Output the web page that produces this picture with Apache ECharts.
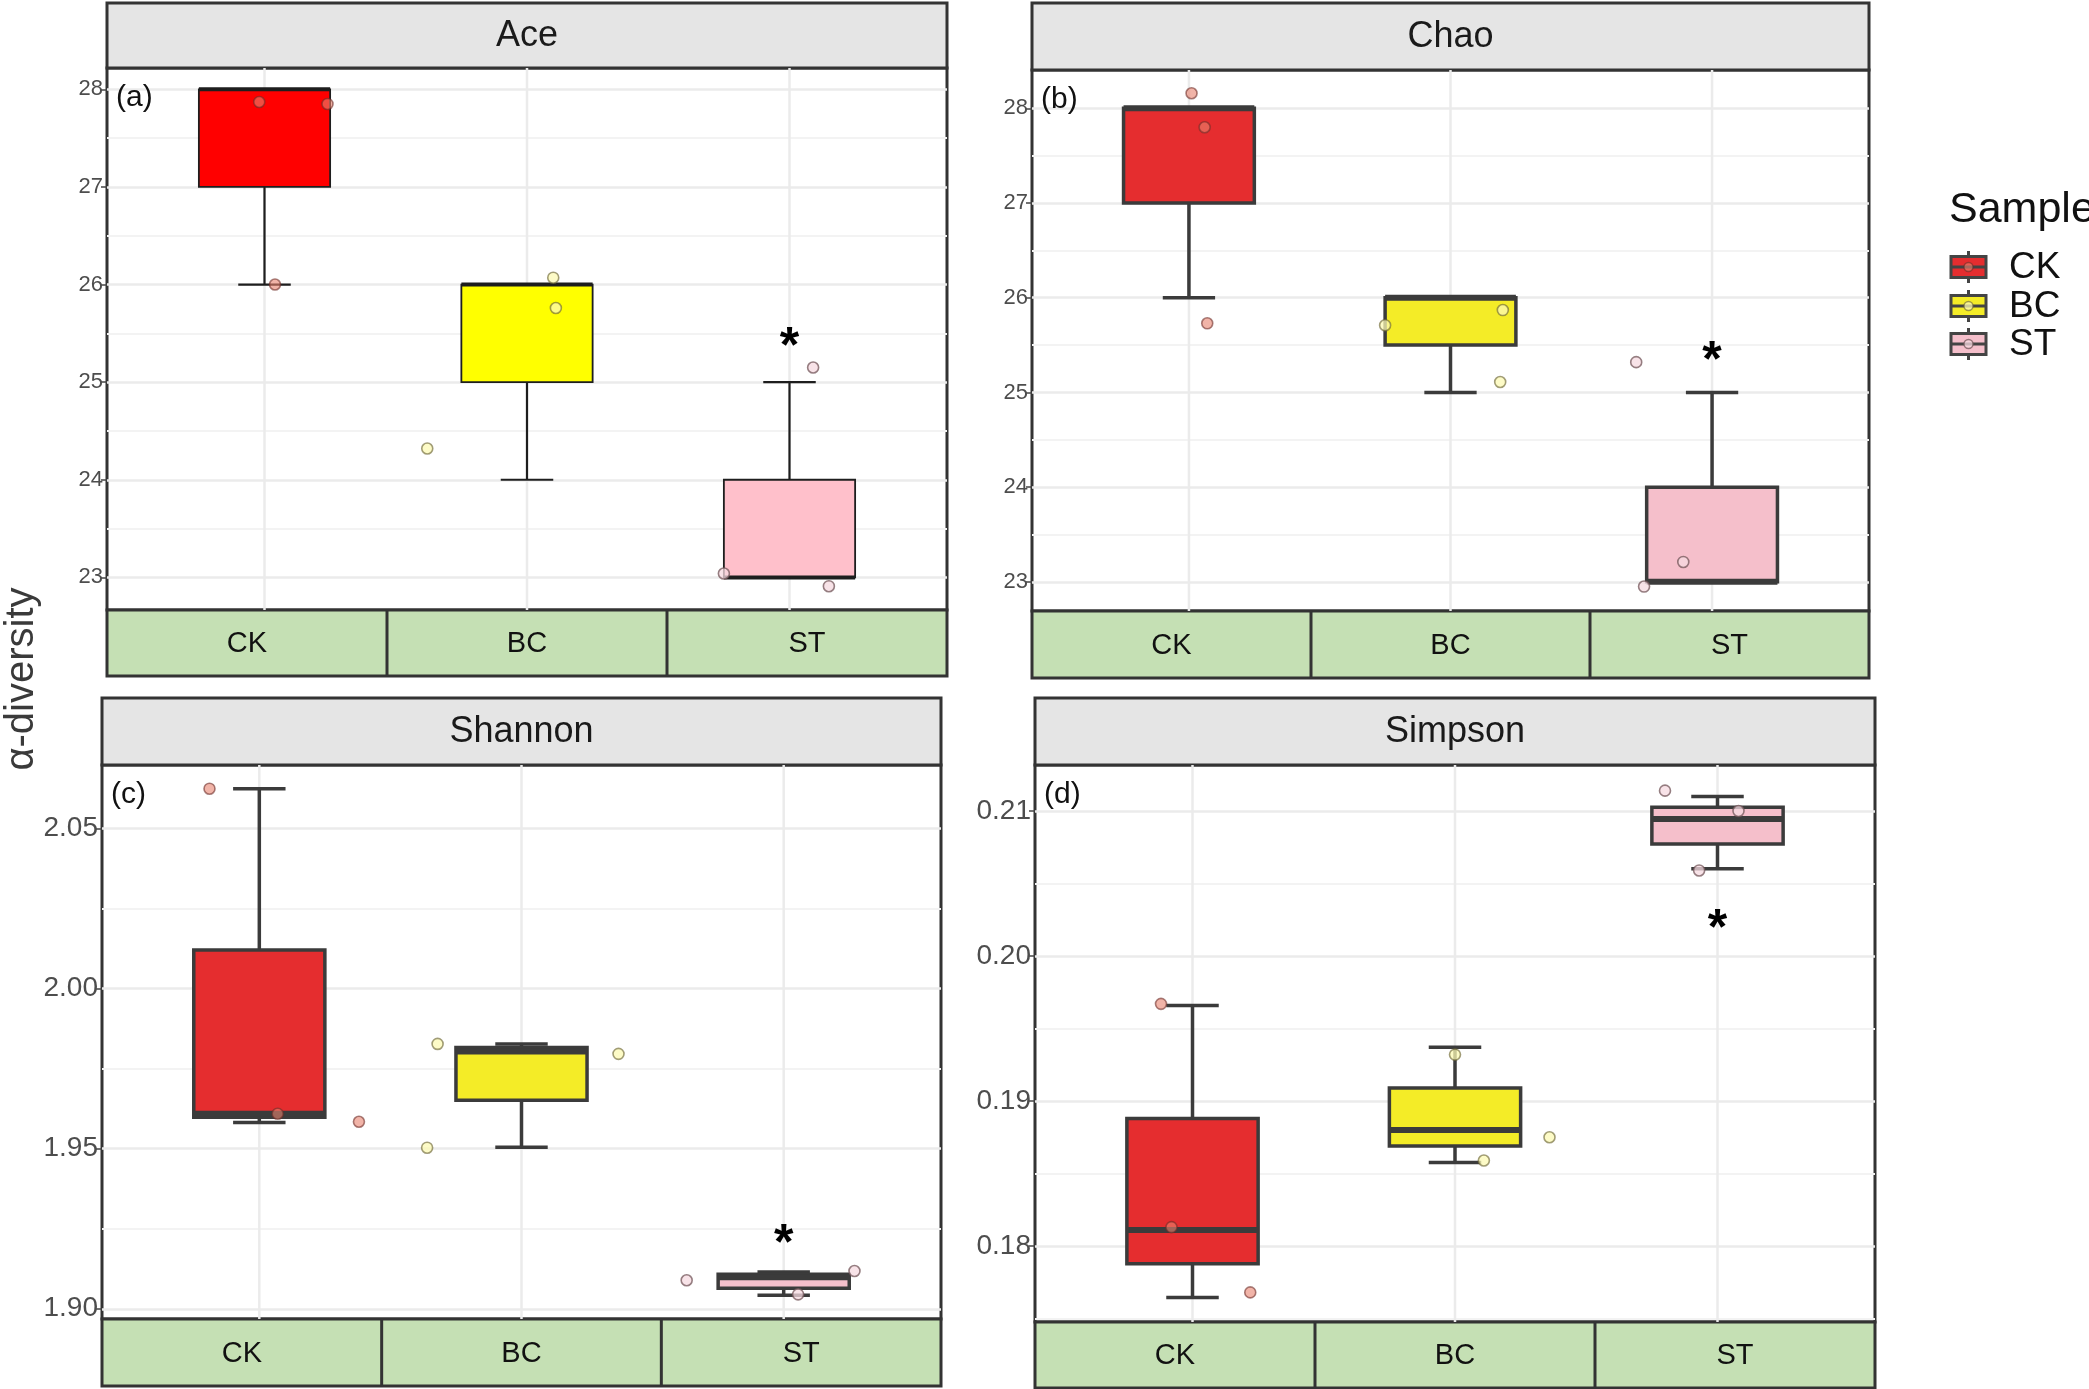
<!DOCTYPE html>
<html>
<head>
<meta charset="UTF-8">
<title>alpha diversity</title>
<script src="https://cdn.jsdelivr.net/npm/echarts@6/dist/echarts.min.js"></script>
<style>
	html, body { margin: 0; padding: 0; background: #fff; }
	#myChart { width: 2089px; height: 1389px; }
</style>
</head>
<body>
<div id="myChart"></div>
<script>
var groups = ['CK', 'BC', 'ST'];
var indexNames = ['Ace', 'Chao', 'Shannon', 'Simpson'];
var panelTags = ['(a)', '(b)', '(c)', '(d)'];
var legendTitle = 'Sample';
var yTitle = 'α-diversity';

// [low whisker, Q1, median, Q3, high whisker] for CK, BC, ST
var aceBox = [[26, 27, 28, 28, 28], [24, 25, 26, 26, 26], [23, 23, 23, 24, 25]];
var chaoBox = [[26, 27, 28, 28, 28], [25, 25.5, 26, 26, 26], [23, 23, 23, 24, 25]];
var shannonBox = [[1.9582, 1.9598, 1.9609, 2.0120, 2.0624], [1.9504, 1.9651, 1.9803, 1.9816, 1.9827], [1.9042, 1.9064, 1.9098, 1.9108, 1.9115]];
var simpsonBox = [[0.17645, 0.17877, 0.1811, 0.1888, 0.19658], [0.18576, 0.1869, 0.1880, 0.1909, 0.1937], [0.20602, 0.20772, 0.20944, 0.21025, 0.2110]];

// jittered samples [x, value], one list per group
var acePoints = [
	[[-0.02, 27.87], [0.24, 27.85], [0.04, 26.0]],
	[[0.62, 24.32], [1.10, 26.07], [1.11, 25.76]],
	[[1.75, 23.04], [2.15, 22.91], [2.09, 25.15]]
];
var chaoPoints = [
	[[0.01, 28.16], [0.06, 27.80], [0.07, 25.73]],
	[[0.75, 25.71], [1.20, 25.87], [1.19, 25.11]],
	[[1.71, 25.32], [1.89, 23.21], [1.74, 22.95]]
];
var shannonPoints = [
	[[-0.19, 2.0624], [0.07, 1.9609], [0.38, 1.9584]],
	[[0.68, 1.9827], [0.64, 1.9503], [1.37, 1.9796]],
	[[1.63, 1.9089], [2.055, 1.9045], [2.27, 1.9118]]
];
var simpsonPoints = [
	[[-0.12, 0.1967], [-0.08, 0.1813], [0.22, 0.1768]],
	[[1.0, 0.1932], [1.11, 0.1859], [1.36, 0.1875]],
	[[1.80, 0.2114], [2.08, 0.2100], [1.93, 0.2059]]
];
var starPoints = [[2, 25.45], [2, 25.43], [2, 1.9230], [2, 0.2025]];

var yRanges = [[22.666, 28.218], [22.692, 28.405], [1.8968, 2.0698], [0.17476, 0.21317]];
var aceTicks = [23, 24, 25, 26, 27, 28];
var chaoTicks = [23, 24, 25, 26, 27, 28];
var shannonTicks = [1.90, 1.95, 2.00, 2.05];
var simpsonTicks = [0.18, 0.19, 0.20, 0.21];
var yLabelStep = [1, 1, 0.05, 0.01];
var yLabelDigits = [0, 0, 2, 2];

// panel frames in px
var frames = [
	{ left: 107, right: 947, top: 3, plotTop: 68, plotBottom: 610, bottom: 676 },
	{ left: 1032, right: 1869, top: 3, plotTop: 70, plotBottom: 611, bottom: 678 },
	{ left: 102, right: 941, top: 698, plotTop: 765, plotBottom: 1319, bottom: 1386 },
	{ left: 1035, right: 1875, top: 698, plotTop: 765, plotBottom: 1322, bottom: 1388 }
];

var FONT = 'Liberation Sans, Arial, sans-serif';
var boxColors = [
	['#ff0000', '#ffff00', '#ffc0cb'],
	['#e52d2f', '#f4ec27', '#f5bfcb'],
	['#e52d2f', '#f4ec27', '#f5bfcb'],
	['#e52d2f', '#f4ec27', '#f5bfcb']
];
var boxStyles = [
	{ stroke: '#1e1e1e', border: 1.8, whisker: 2.2, median: 4 },
	{ stroke: '#3b3b3b', border: 3.5, whisker: 3.5, median: 6 },
	{ stroke: '#3b3b3b', border: 3.5, whisker: 3.5, median: 6 },
	{ stroke: '#3b3b3b', border: 3.5, whisker: 3.5, median: 6 }
];
var pointFill = ['rgba(232,130,110,0.6)', 'rgba(252,250,180,0.75)', 'rgba(246,218,224,0.75)'];
var pointLine = ['rgba(110,45,40,0.6)', 'rgba(110,105,55,0.65)', 'rgba(115,85,90,0.75)'];
var tickFont = [22, 22, 28, 28];

var myChart = echarts.init(document.getElementById('myChart'));
var boxData = [aceBox, chaoBox, shannonBox, simpsonBox];
var pointData = [acePoints, chaoPoints, shannonPoints, simpsonPoints];
var tickData = [aceTicks, chaoTicks, shannonTicks, simpsonTicks];

function boxRenderer(colors, st) {
	return function (params, api) {
		var gi = api.value(0);
		var pLow = api.coord([gi, api.value(1)]);
		var pQ1 = api.coord([gi, api.value(2)]);
		var pMed = api.coord([gi, api.value(3)]);
		var pQ3 = api.coord([gi, api.value(4)]);
		var pHigh = api.coord([gi, api.value(5)]);
		var bw = api.size([0.5, 0])[0];
		var cw = api.size([0.2, 0])[0];
		var cx = pMed[0];
		var ls = { stroke: st.stroke, lineWidth: st.whisker };
		return {
			type: 'group',
			children: [
				{ type: 'line', shape: { x1: cx, y1: pLow[1], x2: cx, y2: pQ1[1] }, style: ls },
				{ type: 'line', shape: { x1: cx, y1: pQ3[1], x2: cx, y2: pHigh[1] }, style: ls },
				{ type: 'line', shape: { x1: cx - cw / 2, y1: pLow[1], x2: cx + cw / 2, y2: pLow[1] }, style: ls },
				{ type: 'line', shape: { x1: cx - cw / 2, y1: pHigh[1], x2: cx + cw / 2, y2: pHigh[1] }, style: ls },
				{ type: 'rect', shape: { x: cx - bw / 2, y: pQ3[1], width: bw, height: pQ1[1] - pQ3[1] },
					style: { fill: colors[params.dataIndex], stroke: st.stroke, lineWidth: st.border } },
				{ type: 'line', shape: { x1: cx - bw / 2, y1: pMed[1], x2: cx + bw / 2, y2: pMed[1] },
					style: { stroke: st.stroke, lineWidth: st.median } }
			]
		};
	};
}

function vgridRenderer(params, api) {
	var x = api.coord([api.value(0), api.value(1)])[0];
	var cs = params.coordSys;
	return { type: 'line', shape: { x1: x, y1: cs.y, x2: x, y2: cs.y + cs.height },
		style: { stroke: '#ebebeb', lineWidth: 2.5 } };
}

function starRenderer(params, api) {
	var p = api.coord([api.value(0), api.value(1)]);
	return { type: 'text', x: p[0], y: p[1] + 10,
		style: { text: '*', fontSize: 50, fontWeight: 'bold', fontFamily: FONT, fill: '#000',
			textAlign: 'center', textVerticalAlign: 'middle' } };
}

var grids = [], xAxes = [], yAxes = [], series = [], graphics = [];

frames.forEach(function (f, i) {
	var w = f.right - f.left;
	grids.push({
		left: f.left, top: f.plotTop, width: w, height: f.plotBottom - f.plotTop,
		show: true, backgroundColor: '#fff', borderColor: '#333', borderWidth: 3
	});
	xAxes.push({ gridIndex: i, type: 'value', min: -0.6, max: 2.6, show: false });
	(function (step, digits) {
		yAxes.push({
			gridIndex: i, type: 'value', min: yRanges[i][0], max: yRanges[i][1], splitNumber: 4,
			axisLine: { show: false, onZero: false },
			axisTick: { show: true, length: 6, customValues: tickData[i], lineStyle: { color: '#444', width: 1.5 } },
			axisLabel: {
				fontSize: tickFont[i], color: '#4d4d4d', fontFamily: FONT, margin: 4,
				formatter: function (v) {
					var r = v / step;
					if (Math.abs(r - Math.round(r)) > 1e-6) return '';
					return v.toFixed(digits);
				}
			},
			splitLine: { show: true, lineStyle: { color: '#ebebeb', width: 2.5 } },
			minorTick: { show: false, splitNumber: 2 },
			minorSplitLine: { show: true, lineStyle: { color: '#f3f3f3', width: 1.8 } }
		});
	})(yLabelStep[i], yLabelDigits[i]);

	series.push({
		type: 'custom', xAxisIndex: i, yAxisIndex: i, silent: true, z: 1,
		renderItem: vgridRenderer, encode: { x: 0, y: 1 },
		data: [[0, yRanges[i][0]], [1, yRanges[i][0]], [2, yRanges[i][0]]]
	});
	series.push({
		type: 'custom', xAxisIndex: i, yAxisIndex: i, z: 2,
		renderItem: boxRenderer(boxColors[i], boxStyles[i]),
		encode: { x: 0, y: [1, 2, 3, 4, 5] },
		data: boxData[i].map(function (b, gi) { return [gi].concat(b); })
	});
	groups.forEach(function (g, gi) {
		series.push({
			type: 'scatter', name: g, xAxisIndex: i, yAxisIndex: i, z: 3,
			symbolSize: 11,
			itemStyle: { color: pointFill[gi], borderColor: pointLine[gi], borderWidth: 1.6, opacity: 1 },
			data: pointData[i][gi]
		});
	});
	series.push({
		type: 'custom', xAxisIndex: i, yAxisIndex: i, z: 4, silent: true,
		renderItem: starRenderer, encode: { x: 0, y: 1 },
		data: [starPoints[i]]
	});

	// facet strip
	graphics.push({
		type: 'rect', shape: { x: f.left, y: f.top, width: w, height: f.plotTop - f.top },
		style: { fill: '#e5e5e5', stroke: '#333', lineWidth: 3 }
	});
	graphics.push({
		type: 'text', x: f.left + w / 2, y: (f.top + f.plotTop) / 2 + 1,
		style: { text: indexNames[i], fontSize: 36, fontFamily: FONT, fill: '#1a1a1a',
			textAlign: 'center', textVerticalAlign: 'middle' }
	});
	// panel tag
	graphics.push({
		type: 'text', x: f.left + 9, y: f.plotTop + 30, z: 10,
		style: { text: panelTags[i], fontSize: 30, fontFamily: FONT, fill: '#111',
			textAlign: 'left', textVerticalAlign: 'middle' }
	});
	// category strip
	graphics.push({
		type: 'rect', shape: { x: f.left, y: f.plotBottom, width: w, height: f.bottom - f.plotBottom },
		style: { fill: '#c5e0b4', stroke: '#333', lineWidth: 3 }
	});
	groups.forEach(function (g, gi) {
		if (gi > 0) {
			graphics.push({
				type: 'line', shape: { x1: f.left + w * gi / 3, y1: f.plotBottom, x2: f.left + w * gi / 3, y2: f.bottom },
				style: { stroke: '#333', lineWidth: 3 }
			});
		}
		graphics.push({
			type: 'text', x: f.left + w * (gi + 0.5) / 3, y: (f.plotBottom + f.bottom) / 2 + 1,
			style: { text: g, fontSize: 29, fontFamily: FONT, fill: '#111',
				textAlign: 'center', textVerticalAlign: 'middle' }
		});
	});
});

// y axis title
graphics.push({
	type: 'text', x: 22, y: 679, rotation: Math.PI / 2,
	style: { text: yTitle, fontSize: 40, fontFamily: FONT, fill: '#3a3a3a',
		textAlign: 'center', textVerticalAlign: 'middle' }
});

// legend
graphics.push({
	type: 'text', x: 1949, y: 210,
	style: { text: legendTitle, fontSize: 43, fontFamily: FONT, fill: '#111',
		textAlign: 'left', textVerticalAlign: 'middle' }
});
var legendY = [267, 306, 344];
groups.forEach(function (g, gi) {
	var cy = legendY[gi];
	var cx = 1968.5;
	graphics.push({ type: 'line', shape: { x1: cx, y1: cy - 16, x2: cx, y2: cy + 16 }, style: { stroke: '#444', lineWidth: 3 } });
	graphics.push({ type: 'rect', shape: { x: 1951, y: cy - 10.5, width: 35, height: 21 },
		style: { fill: boxColors[1][gi], stroke: '#444', lineWidth: 3 } });
	graphics.push({ type: 'line', shape: { x1: 1951, y1: cy, x2: 1986, y2: cy }, style: { stroke: '#444', lineWidth: 3 } });
	graphics.push({ type: 'circle', shape: { cx: cx, cy: cy, r: 4.5 },
		style: { fill: pointFill[gi], stroke: pointLine[gi], lineWidth: 1.5 } });
	graphics.push({
		type: 'text', x: 2009, y: cy + 1,
		style: { text: g, fontSize: 37, fontFamily: FONT, fill: '#111', textAlign: 'left', textVerticalAlign: 'middle' }
	});
});

myChart.setOption({
	backgroundColor: '#fff',
	animation: false,
	grid: grids,
	xAxis: xAxes,
	yAxis: yAxes,
	series: series,
	graphic: { elements: graphics }
});
</script>
</body>
</html>
